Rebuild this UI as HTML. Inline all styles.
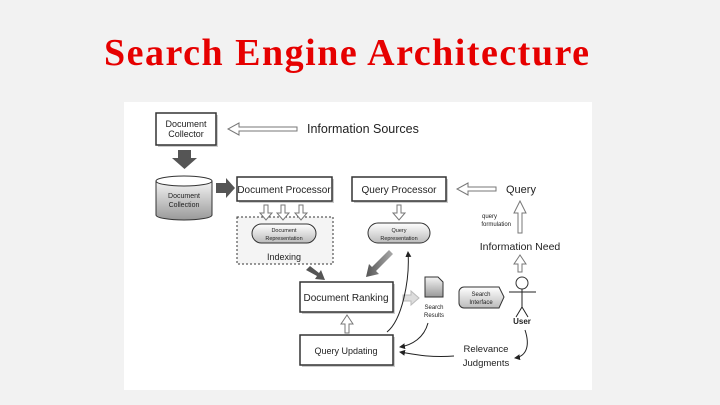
<!DOCTYPE html>
<html><head><meta charset="utf-8"><style>
html,body{margin:0;padding:0}
body{width:720px;height:405px;background:#f2f2f2;position:relative;overflow:hidden;font-family:"Liberation Sans",sans-serif}
.t{position:absolute;left:104px;top:31px;font-family:"Liberation Serif",serif;font-weight:bold;font-size:38px;color:#e60000;white-space:nowrap;letter-spacing:1.5px}
svg{position:absolute;left:0;top:0}
</style></head><body>
<div class="t">Search Engine Architecture</div>
<svg width="720" height="405" viewBox="0 0 720 405" font-family="Liberation Sans, sans-serif">
<defs>
<linearGradient id="g" x1="0" x2="1"><stop offset="0" stop-color="#555"/><stop offset="1" stop-color="#aaa"/></linearGradient>
<linearGradient id="cy" x1="0" x2="0" y1="0" y2="1"><stop offset="0" stop-color="#f4f4f4"/><stop offset="1" stop-color="#999"/></linearGradient>
<linearGradient id="pl" x1="0" x2="0" y1="0" y2="1"><stop offset="0" stop-color="#fff"/><stop offset="1" stop-color="#bbb"/></linearGradient>
<marker id="ah" markerWidth="6" markerHeight="6" refX="5" refY="3" orient="auto"><path d="M0,0L6,3L0,6z" fill="#222"/></marker>
</defs>
<rect x="124" y="102" width="468" height="288" fill="#fff"/>
<g fill="#ccc">
<rect x="158" y="115" width="60" height="32"/>
<rect x="239" y="179" width="95" height="24"/>
<rect x="354" y="179" width="94" height="24"/>
<rect x="302" y="284" width="93" height="30"/>
<rect x="302" y="337" width="93" height="30"/>
</g>
<g stroke="#333" stroke-width="1" fill="#fff">
<rect x="156" y="113" width="60" height="32" stroke-width="1.5"/>
<rect x="237" y="177" width="95" height="24" stroke-width="1.5"/>
<rect x="352" y="177" width="94" height="24" stroke-width="1.5"/>
<rect x="300" y="282" width="93" height="30" stroke-width="1.5"/>
<rect x="300" y="335" width="93" height="30" stroke-width="1.5"/>
<rect x="237" y="217" width="96" height="47" fill="#f4f4f4" stroke-dasharray="2,2"/>
<rect x="252" y="224" width="64" height="19" rx="9.5" fill="url(#pl)"/>
<rect x="368" y="223" width="62" height="20" rx="10" fill="url(#pl)"/>
<path d="M156,181 v34 a28,5 0 0 0 56,0 v-34" fill="url(#cy)"/>
<ellipse cx="184" cy="181" rx="28" ry="5" fill="#fff"/>
<path d="M425,277 h13 l5,5 v15 h-18z" fill="url(#cy)"/>
<path d="M464,287 h35 l5,10 l-5,11 h-35 a5,5 0 0 1 -5,-5 v-11 a5,5 0 0 1 5,-5z" fill="url(#pl)"/>
</g>
<g fill="#fff" stroke="#777" stroke-width="1">
<path d="M297,127 h-58 v-4 l-11,6 11,6 v-4 h58z"/>
<path d="M496,187 h-28 v-4 l-11,6 11,6 v-4 h28z"/>
<path d="M518,233 v-20 h-4 l6,-12 6,12 h-4 v20z"/>
<path d="M518,272 v-8 h-4 l6,-9 6,9 h-4 v8z"/>
<path d="M345,333 v-9 h-4 l6,-9 6,9 h-4 v9z"/>
<path d="M397,205 v8 h-4 l6,7 6,-7 h-4 v-8z"/>
<path d="M264,205 v8 h-4 l6,7 6,-7 h-4 v-8z"/>
<path d="M281,205 v8 h-4 l6,7 6,-7 h-4 v-8z"/>
<path d="M299,205 v8 h-4 l6,7 6,-7 h-4 v-8z"/>
<path d="M403,295 h8 v-4 l8,7 -8,7 v-4 h-8z" fill="#ddd" stroke="#bbb"/>
</g>
<path d="M178,150 h13 v8 h6 l-12.5,11 -12.5,-11 h6z" fill="#555"/>
<path d="M216,183 h10 v-5 l9,10 -9,10 v-5 h-10z" fill="#555"/>
<path d="M306,270 l4,-4 9,7 2,-3 4,10 -10,-1 2,-3z" fill="#555"/>
<path d="M393,254 l-4,-4 -17,17 -3,-3 -3,13 13,-3 -3,-3z" fill="url(#g)"/>
<g fill="none" stroke="#222" stroke-width="1">
<path d="M387,332 C402,320 410,280 408,252" marker-end="url(#ah)"/>
<path d="M428,323 C424,338 412,345 400,347" marker-end="url(#ah)"/>
<path d="M454,356 C430,358 412,354 400,352" marker-end="url(#ah)"/>
<path d="M525,330 C530,345 527,356 515,358" marker-end="url(#ah)"/>
<circle cx="522" cy="283" r="6" fill="#fff" stroke="#333"/>
<path d="M522,289 v18 M509,292 h27 M522,307 l-6,10 M522,307 l6,10"/>
</g>
<g fill="#222" text-anchor="middle">
<text x="186" y="127" font-size="9">Document</text>
<text x="186" y="137" font-size="9">Collector</text>
<text x="184" y="198" font-size="7">Document</text>
<text x="184" y="207" font-size="7">Collection</text>
<text x="284" y="193" font-size="10">Document Processor</text>
<text x="399" y="193" font-size="10">Query Processor</text>
<text x="284" y="232" font-size="5.5">Document</text>
<text x="284" y="240" font-size="5.5">Representation</text>
<text x="399" y="232" font-size="5.5">Query</text>
<text x="399" y="240" font-size="5.5">Representation</text>
<text x="284" y="260" font-size="9">Indexing</text>
<text x="346" y="301" font-size="10">Document Ranking</text>
<text x="346" y="354" font-size="9">Query Updating</text>
<text x="434" y="309" font-size="6">Search</text>
<text x="434" y="317" font-size="6">Results</text>
<text x="481" y="296" font-size="6">Search</text>
<text x="481" y="304" font-size="6">Interface</text>
<text x="522" y="324" font-size="8" font-weight="bold">User</text>
<text x="497" y="218" font-size="6" text-anchor="end">query</text>
<text x="511" y="226" font-size="6" text-anchor="end">formulation</text>
<text x="520" y="250" font-size="10.5">Information Need</text>
<text x="486" y="352" font-size="9.5">Relevance</text>
<text x="486" y="366" font-size="9.5">Judgments</text>
</g>
<text x="307" y="133" font-size="12.5" fill="#222">Information Sources</text>
<text x="506" y="193" font-size="11" fill="#222">Query</text>
</svg>
</body></html>
